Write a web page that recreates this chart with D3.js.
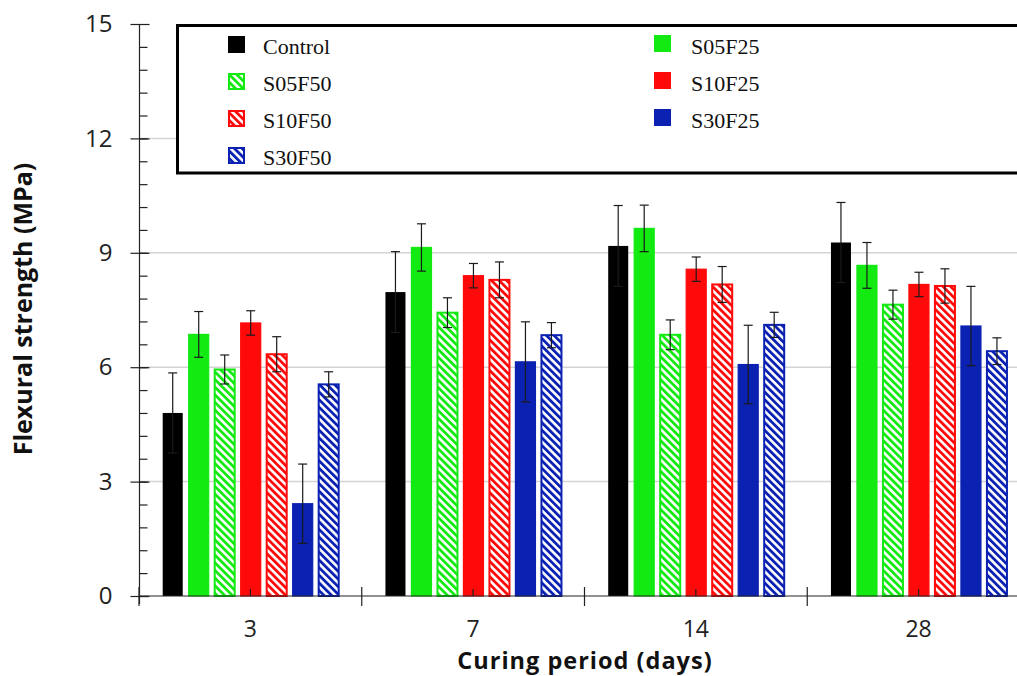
<!DOCTYPE html>
<html>
<head>
<meta charset="utf-8">
<script src="https://cdn.jsdelivr.net/npm/d3@7"></script>
<style>
  html, body { margin: 0; padding: 0; background: #fff; }
  svg { display: block; }
</style>
</head>
<body>
<svg id="chart" width="1017" height="676"></svg>
<script>
// Curing periods (days) on the x axis
const periods = ["3", "7", "14", "28"];

// Mix designations, in bar order within each group
const mixes = ["Control", "S05F25", "S05F50", "S10F25", "S10F50", "S30F25", "S30F50"];

// Mean flexural strength (MPa) per mix, one value per curing period
const control = [4.80, 7.97, 9.18, 9.27];
const s05f25  = [6.86, 9.14, 9.64, 8.67];
const s05f50  = [5.94, 7.43, 6.85, 7.64];
const s10f25  = [7.16, 8.40, 8.57, 8.17];
const s10f50  = [6.34, 8.29, 8.17, 8.13];
const s30f25  = [2.42, 6.14, 6.07, 7.08];
const s30f50  = [5.55, 6.84, 7.11, 6.42];

// Standard deviation (MPa) shown as error bars
const controlErr = [1.05, 1.06, 1.06, 1.05];
const s05f25Err  = [0.60, 0.62, 0.61, 0.60];
const s05f50Err  = [0.38, 0.39, 0.39, 0.38];
const s10f25Err  = [0.32, 0.32, 0.32, 0.32];
const s10f50Err  = [0.46, 0.47, 0.47, 0.45];
const s30f25Err  = [1.04, 1.05, 1.03, 1.04];
const s30f50Err  = [0.33, 0.33, 0.33, 0.35];

// Y axis tick values
const majorTicks = [0, 3, 6, 9, 12, 15];

// Legend layout: first column, second column
const legendCol1 = ["Control", "S05F50", "S10F50", "S30F50"];
const legendCol2 = ["S05F25", "S10F25", "S30F25"];

const values = { Control: control, S05F25: s05f25, S05F50: s05f50, S10F25: s10f25, S10F50: s10f50, S30F25: s30f25, S30F50: s30f50 };
const errors = { Control: controlErr, S05F25: s05f25Err, S05F50: s05f50Err, S10F25: s10f25Err, S10F50: s10f50Err, S30F25: s30f25Err, S30F50: s30f50Err };

const GREEN = "#12ea12", RED = "#ff0a0a", BLUE = "#0b21b2", BLACK = "#000000";
const style = {
  Control: { color: BLACK, hatch: false },
  S05F25:  { color: GREEN, hatch: false },
  S05F50:  { color: GREEN, hatch: true },
  S10F25:  { color: RED,   hatch: false },
  S10F50:  { color: RED,   hatch: true },
  S30F25:  { color: BLUE,  hatch: false },
  S30F50:  { color: BLUE,  hatch: true }
};

const svg = d3.select("#chart");
const W = 1017;

// Scales
const y = d3.scaleLinear().domain([0, 15]).range([596, 24]);
const x0 = d3.scaleBand().domain(periods).range([139, 1030]).padding(0);
const x1 = d3.scaleBand().domain(mixes).range([23.7, 199.7]).paddingInner(0.23).paddingOuter(0);

// Diagonal hatch patterns
const defs = svg.append("defs");
[["green", GREEN], ["red", RED], ["blue", BLUE]].forEach(([k, c]) => {
  const p = defs.append("pattern")
    .attr("id", "hatch-" + k)
    .attr("patternUnits", "userSpaceOnUse")
    .attr("width", 5.4).attr("height", 5.4)
    .attr("patternTransform", "rotate(-45)");
  p.append("rect").attr("width", 5.4).attr("height", 5.4).attr("fill", "#fff");
  p.append("rect").attr("width", 2.8).attr("height", 5.4).attr("fill", c);
});
const hatchId = c => c === GREEN ? "green" : c === RED ? "red" : "blue";
const fillOf = m => style[m].hatch ? `url(#hatch-${hatchId(style[m].color)})` : style[m].color;

// Gridlines
svg.append("g").selectAll("line")
  .data(majorTicks.filter(t => t > 0 && t < 15))
  .join("line")
  .attr("x1", 140).attr("x2", W)
  .attr("y1", d => y(d)).attr("y2", d => y(d))
  .attr("stroke", "#d4d4d4").attr("stroke-width", 1.5);

// Bars
const groups = svg.append("g").selectAll("g")
  .data(periods.map((p, i) => ({ p, i })))
  .join("g")
  .attr("transform", d => `translate(${x0(d.p)},0)`);

groups.selectAll("rect")
  .data(d => mixes.map(m => ({ m, v: values[m][d.i], e: errors[m][d.i] })))
  .join("rect")
  .attr("x", d => x1(d.m))
  .attr("width", x1.bandwidth())
  .attr("y", d => y(d.v))
  .attr("height", d => y(0) - y(d.v))
  .attr("fill", d => fillOf(d.m))
  .attr("stroke", d => style[d.m].color === BLACK ? "none" : style[d.m].color)
  .attr("stroke-width", d => style[d.m].hatch ? 2 : 1.2);

// X axis line and category ticks
svg.append("line").attr("x1", 139).attr("x2", W).attr("y1", y(0)).attr("y2", y(0))
  .attr("stroke", "#222").attr("stroke-width", 1.2);
svg.append("g").selectAll("line").data(periods).join("line")
  .attr("x1", d => x0(d)).attr("x2", d => x0(d))
  .attr("y1", y(0) - 9).attr("y2", y(0) + 10)
  .attr("stroke", "#222").attr("stroke-width", 1.2);
svg.append("g").selectAll("line").data(periods).join("line")
  .attr("x1", d => x0(d) + x0.bandwidth() / 2).attr("x2", d => x0(d) + x0.bandwidth() / 2)
  .attr("y1", y(0) - 7).attr("y2", y(0))
  .attr("stroke", "#222").attr("stroke-width", 1.2);

// Error bars
const eb = groups.selectAll("g.err")
  .data(d => mixes.map(m => ({ m, v: values[m][d.i], e: errors[m][d.i] })))
  .join("g").attr("class", "err")
  .attr("transform", d => `translate(${x1(d.m) + x1.bandwidth() / 2},0)`)
  .attr("stroke", "#1a1a1a").attr("stroke-width", 1.2);
eb.append("line").attr("y1", d => y(d.v + d.e)).attr("y2", d => y(d.v - d.e));
eb.append("line").attr("x1", -4.5).attr("x2", 4.5).attr("y1", d => y(d.v + d.e)).attr("y2", d => y(d.v + d.e));
eb.append("line").attr("x1", -4.5).attr("x2", 4.5).attr("y1", d => y(d.v - d.e)).attr("y2", d => y(d.v - d.e));

// X tick labels
svg.append("g").selectAll("text").data(periods).join("text")
  .attr("x", d => x0(d) + x0.bandwidth() / 2)
  .attr("y", 636.8)
  .attr("text-anchor", "middle")
  .attr("font-family", "'Open Sans', sans-serif")
  .attr("font-size", 23)
  .attr("fill", "#222")
  .text(d => d);

// Y axis: labels with outer major ticks, inner major/minor ticks
const yLeft = svg.append("g").attr("transform", "translate(139.5,0)")
  .call(d3.axisLeft(y).tickValues(majorTicks).tickSize(9).tickPadding(18));
yLeft.select(".domain").attr("stroke", "#222").attr("stroke-width", 1.2).attr("d", `M0,${y(15)}V${y(0) + 8}`);
yLeft.selectAll(".tick line").attr("stroke", "#222").attr("stroke-width", 1.2);
yLeft.selectAll(".tick text")
  .attr("font-family", "'Open Sans', sans-serif")
  .attr("font-size", 24)
  .attr("fill", "#222");

const minorTicks = d3.range(0, 25).map(i => +(i * 0.6).toFixed(1)).filter(v => v <= 15);
const yMinor = svg.append("g").attr("transform", "translate(139.5,0)")
  .call(d3.axisRight(y).tickValues(minorTicks).tickSize(8).tickFormat(""));
yMinor.select(".domain").remove();
yMinor.selectAll(".tick line").attr("stroke", "#222").attr("stroke-width", 1.2);
const yMajorIn = svg.append("g").attr("transform", "translate(139.5,0)")
  .call(d3.axisRight(y).tickValues(majorTicks).tickSize(10).tickFormat(""));
yMajorIn.select(".domain").remove();
yMajorIn.selectAll(".tick line").attr("stroke", "#222").attr("stroke-width", 1.2);

// Axis titles
svg.append("text")
  .attr("x", 585).attr("y", 668.8)
  .attr("text-anchor", "middle")
  .attr("font-family", "'Open Sans', sans-serif")
  .attr("font-weight", "bold")
  .attr("font-size", 23.5)
  .attr("letter-spacing", 1)
  .attr("fill", "#111")
  .text("Curing period (days)");
svg.append("text")
  .attr("transform", "translate(32,309) rotate(-90)")
  .attr("text-anchor", "middle")
  .attr("font-family", "'Open Sans', sans-serif")
  .attr("font-weight", "bold")
  .attr("font-size", 25)
  .attr("fill", "#111")
  .text("Flexural strength (MPa)");

// Legend
const legend = svg.append("g");
legend.append("rect")
  .attr("x", 177.5).attr("y", 25.5).attr("width", 900).attr("height", 147.5)
  .attr("fill", "#fff").attr("stroke", "#000").attr("stroke-width", 3);

function legendColumn(items, sx, tx, sy0, ty0) {
  const g = legend.append("g");
  items.forEach((m, i) => {
    const sw = style[m].hatch;
    g.append("rect")
      .attr("x", sx + (sw ? 1 : 0)).attr("y", sy0 + i * 37 + (sw ? 1 : 0))
      .attr("width", sw ? 15 : 17).attr("height", sw ? 15 : 17)
      .attr("fill", fillOf(m))
      .attr("stroke", sw ? style[m].color : "none")
      .attr("stroke-width", 2);
    g.append("text")
      .attr("x", tx).attr("y", ty0 + i * 37)
      .attr("font-family", "'Liberation Serif', 'Times New Roman', serif")
      .attr("font-size", 22)
      .attr("fill", "#111")
      .text(m);
  });
}
legendColumn(legendCol1, 228, 263, 36, 54);
legendColumn(legendCol2, 654, 691, 35, 53.5);
</script>
</body>
</html>
